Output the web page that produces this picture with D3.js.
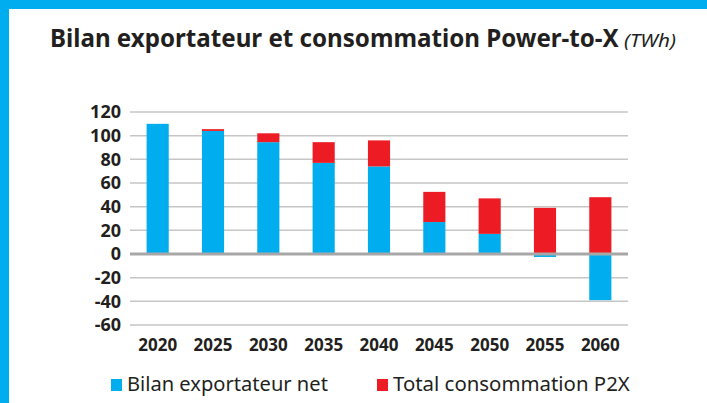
<!DOCTYPE html>
<html>
<head>
<meta charset="utf-8">
<script src="https://cdn.jsdelivr.net/npm/d3@7"></script>
<style>
  html, body { margin: 0; padding: 0; background: #fff; }
  svg { display: block; }
</style>
</head>
<body>
<svg id="chart" width="707" height="403"></svg>
<script>
// values (TWh)
const years = ["2020", "2025", "2030", "2035", "2040", "2045", "2050", "2055", "2060"];
const bilanNet = [110, 104, 94.5, 77, 74, 27, 17, -2.5, -39];
const p2x = [0, 1.5, 7.5, 17.5, 22, 25.5, 30, 39, 48];
const yTicks = [-60, -40, -20, 0, 20, 40, 60, 80, 100, 120];
const seriesNames = ["Bilan exportateur net", "Total consommation P2X"];

const blue = "#00aeef", red = "#ed1c24";
const font = "'Noto Sans', 'Open Sans', sans-serif";

let svg = d3.select("#chart");
let width = 707, height = 403;

// squeeze a text horizontally to a target width (source font is narrower than ours)
function fitWidth(sel, x0, y0, w) {
  let natural = sel.node().getComputedTextLength();
  sel.attr("transform", "translate(" + x0 + "," + y0 + ") scale(" + (w / natural) + ",1)");
}

// light blue frame top + left
svg.append("rect").attr("x", 0).attr("y", 0).attr("width", width).attr("height", 9).attr("fill", blue);
svg.append("rect").attr("x", 0).attr("y", 0).attr("width", 9).attr("height", height).attr("fill", blue);

// title
let title = svg.append("text")
    .attr("font-family", font)
    .attr("font-size", 25).attr("font-weight", 700)
    .attr("fill", "#231f20")
    .text("Bilan exportateur et consommation Power-to-X");
fitWidth(title, 50, 47, 569);
let unit = svg.append("text")
    .attr("font-family", font)
    .attr("font-size", 18).attr("font-style", "italic")
    .attr("fill", "#231f20")
    .text("(TWh)");
fitWidth(unit, 624, 47, 52);

let x = d3.scaleBand().domain(years).range([130, 628]).paddingInner(0.6).paddingOuter(0.3);
let y = d3.scaleLinear().domain([-60, 120]).range([325, 112]);

let rows = years.map(function(yr, i) { return { year: yr, net: bilanNet[i], p2x: p2x[i] }; });
let stacked = d3.stack().keys(["net", "p2x"]).offset(d3.stackOffsetDiverging)(rows);

// gridlines
let grid = svg.append("g");
grid.selectAll("line")
  .data(yTicks.filter(function(t) { return t !== 0; }))
  .enter().append("line")
    .attr("x1", 130).attr("x2", 628)
    .attr("y1", function(d) { return y(d); })
    .attr("y2", function(d) { return y(d); })
    .attr("stroke", "#c6c6c6")
    .attr("stroke-width", 1.5);

// y axis labels (plain hyphen for negatives, like the original)
let yAxis = svg.append("g")
    .attr("transform", "translate(130,0)")
    .call(d3.axisLeft(y).tickValues(yTicks).tickSize(0).tickPadding(9)
      .tickFormat(function(d) { return String(d); }));
yAxis.select(".domain").remove();
yAxis.selectAll("text")
    .attr("font-family", font)
    .attr("font-size", 18)
    .attr("font-weight", 700)
    .attr("fill", "#231f20");

// bars
let colors = [blue, red];
svg.append("g").selectAll("g")
  .data(stacked)
  .enter().append("g")
    .attr("fill", function(d, i) { return colors[i]; })
  .selectAll("rect")
  .data(function(d) { return d; })
  .enter().append("rect")
    .attr("x", function(d) { return x(d.data.year); })
    .attr("width", x.bandwidth())
    .attr("y", function(d) { return y(Math.max(d[0], d[1])); })
    .attr("height", function(d) { return Math.abs(y(d[0]) - y(d[1])); });

// zero line
svg.append("line")
    .attr("x1", 130).attr("x2", 628)
    .attr("y1", y(0)).attr("y2", y(0))
    .attr("stroke", "#a7a7a7")
    .attr("stroke-width", 3);

// x axis labels
let xAxis = svg.append("g")
    .attr("transform", "translate(0,351)")
    .call(d3.axisBottom(x).tickSize(0).tickPadding(0));
xAxis.select(".domain").remove();
xAxis.selectAll("text")
    .attr("dy", 0)
    .attr("font-family", font)
    .attr("font-size", 17)
    .attr("font-weight", 700)
    .attr("fill", "#231f20");

// legend
let legendX = [111, 377];
let legendW = [201, 237];
let legend = svg.append("g").selectAll("g")
  .data(seriesNames)
  .enter().append("g")
    .attr("transform", function(d, i) { return "translate(" + legendX[i] + ",379)"; });
legend.append("rect")
    .attr("width", 11).attr("height", 12)
    .attr("fill", function(d, i) { return colors[i]; });
legend.append("text")
    .attr("font-family", font)
    .attr("font-size", 20)
    .attr("fill", "#231f20")
    .text(function(d) { return d; })
    .each(function(d, i) { fitWidth(d3.select(this), 16, 12, legendW[i]); });
</script>
</body>
</html>
